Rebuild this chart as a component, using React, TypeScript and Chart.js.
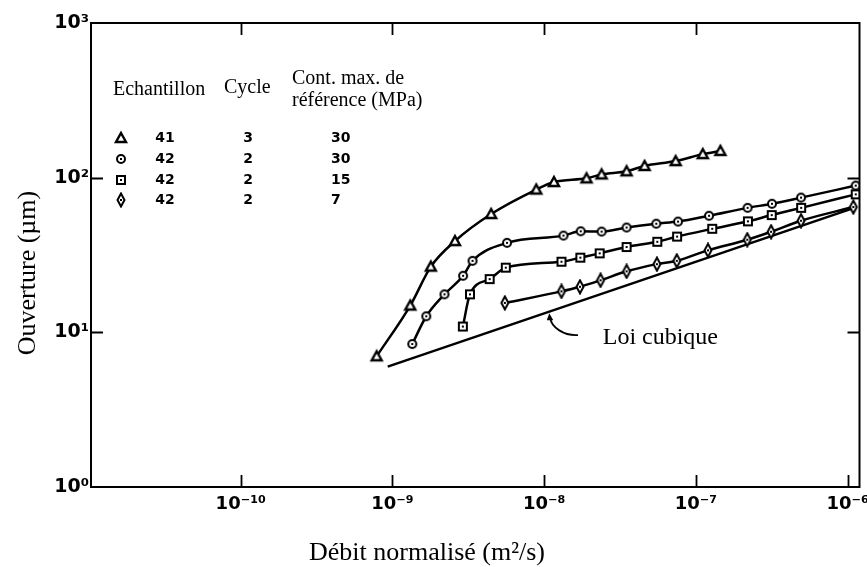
import { useEffect, useRef } from 'react';
import { Chart, registerables } from 'chart.js';

Chart.register(...registerables);

// Normalised flow rate (m²/s) and hydraulic aperture (µm) for each test
const flow41c3 = [7.86e-10, 1.31e-9, 1.79e-9, 2.58e-9, 4.47e-9, 8.87e-9, 1.16e-8, 1.9e-8, 2.39e-8, 3.49e-8, 4.59e-8, 7.35e-8, 1.11e-7, 1.45e-7];
const aperture41c3 = [7.0, 14.9, 26.6, 38.9, 58.2, 83.8, 93.7, 99.0, 105, 110, 119, 128, 142, 149];

const flow42s30 = [1.35e-9, 1.67e-9, 2.2e-9, 2.92e-9, 3.37e-9, 5.69e-9, 1.34e-8, 1.74e-8, 2.39e-8, 3.49e-8, 5.48e-8, 7.62e-8, 1.22e-7, 2.19e-7, 3.17e-7, 4.93e-7, 1.13e-6];
const aperture42s30 = [8.4, 12.7, 17.6, 23.2, 29.0, 37.9, 42.2, 45.0, 44.8, 47.6, 50.4, 52.0, 56.7, 63.8, 67.8, 74.3, 88.9];

const flow42s15 = [2.91e-9, 3.24e-9, 4.37e-9, 5.58e-9, 1.3e-8, 1.73e-8, 2.32e-8, 3.49e-8, 5.56e-8, 7.51e-8, 1.28e-7, 2.2e-7, 3.16e-7, 4.94e-7, 1.13e-6];
const aperture42s15 = [10.9, 17.6, 22.1, 26.2, 28.6, 30.4, 32.4, 35.6, 38.5, 41.6, 46.7, 52.2, 57.3, 63.8, 78.0];

const flow42s7 = [5.5e-9, 1.3e-8, 1.72e-8, 2.35e-8, 3.49e-8, 5.53e-8, 7.48e-8, 1.2e-7, 2.18e-7, 3.13e-7, 4.93e-7, 1.09e-6];
const aperture42s7 = [15.5, 18.4, 19.7, 21.7, 24.8, 27.6, 29.0, 33.9, 39.7, 44.7, 52.7, 64.6];

// Cubic law reference line (end points)
const flowCubic = [9.3e-10, 1.13e-6];
const apertureCubic = [6.0, 64.2];

// Legend table
const sampleIds = ['41', '42', '42', '42'];
const cycles = ['3', '2', '2', '2'];
const refStress = ['30', '30', '15', '7'];
const markerKinds = ['triangle', 'circle', 'square', 'diamond'];

const flowTicks = [1e-10, 1e-9, 1e-8, 1e-7, 1e-6];
const apertureTicks = [1, 10, 100, 1000];

const SUP: Record<string, string> = {
  '-': '⁻', '0': '⁰', '1': '¹', '2': '²', '3': '³', '4': '⁴',
  '5': '⁵', '6': '⁶', '7': '⁷', '8': '⁸', '9': '⁹',
};
const powerLabel = (v: number) =>
  '10' + String(Math.round(Math.log10(v))).split('').map((c) => SUP[c]).join('');

const SERIF = "'Liberation Serif', 'Times New Roman', serif";
const SANS = "'DejaVu Sans', sans-serif";

function markerCanvas(kind: string): HTMLCanvasElement {
  const c = document.createElement('canvas');
  const s = 16;
  c.width = s;
  c.height = s;
  const g = c.getContext('2d')!;
  const m = s / 2;
  g.strokeStyle = '#000';
  g.fillStyle = '#fff';
  g.lineWidth = 2;
  g.beginPath();
  if (kind === 'triangle') {
    g.lineWidth = 2.4;
    g.moveTo(m, m - 5);
    g.lineTo(m + 5, m + 4);
    g.lineTo(m - 5, m + 4);
    g.closePath();
  } else if (kind === 'circle') {
    g.arc(m, m, 4, 0, Math.PI * 2);
  } else if (kind === 'square') {
    g.rect(m - 4, m - 4, 8, 8);
  } else {
    g.moveTo(m, m - 6.5);
    g.lineTo(m + 3.5, m);
    g.lineTo(m, m + 6.5);
    g.lineTo(m - 3.5, m);
    g.closePath();
  }
  g.fill();
  g.stroke();
  if (kind !== 'triangle') {
    g.fillStyle = '#000';
    g.fillRect(m - 1, m - 1, 2, 2);
  }
  return c;
}

function pts(xs: number[], ys: number[]) {
  return xs.map((x, i) => ({ x, y: ys[i] }));
}

export default function App() {
  const ref = useRef<HTMLCanvasElement>(null);

  useEffect(() => {
    const canvas = ref.current;
    if (!canvas) return;
    const markers = markerKinds.map(markerCanvas);

    const series = (xs: number[], ys: number[], marker: HTMLCanvasElement, label: string) => ({
      label,
      data: pts(xs, ys),
      borderColor: '#000',
      backgroundColor: '#fff',
      borderWidth: 2.5,
      pointStyle: marker,
      pointRadius: 5,
      tension: 0.4,
      cubicInterpolationMode: 'monotone' as const,
      fill: false,
    });

    const framePlugin = {
      id: 'frameAndText',
      afterDraw(chart: any) {
        const { ctx, chartArea } = chart;
        const { left, right, top, bottom } = chartArea;
        const xs = chart.scales.x;
        const ys = chart.scales.y;
        ctx.save();
        ctx.strokeStyle = '#000';
        ctx.lineWidth = 2;
        ctx.strokeRect(left, top, right - left, bottom - top);

        // inward ticks: decades along the bottom and top, 10 and 100 on both sides
        const tl = 12;
        ctx.beginPath();
        flowTicks.forEach((v, i) => {
          const px = Math.round(xs.getPixelForValue(v)) + 0.5;
          ctx.moveTo(px, bottom);
          ctx.lineTo(px, bottom - tl);
          if (i < flowTicks.length - 1) {
            ctx.moveTo(px, top);
            ctx.lineTo(px, top + tl);
          }
        });
        apertureTicks.slice(1, -1).forEach((v) => {
          const py = Math.round(ys.getPixelForValue(v)) + 0.5;
          ctx.moveTo(left, py);
          ctx.lineTo(left + tl, py);
          ctx.moveTo(right, py);
          ctx.lineTo(right - tl, py);
        });
        ctx.lineWidth = 1.8;
        ctx.stroke();

        // axis titles
        ctx.fillStyle = '#000';
        ctx.font = `26px ${SERIF}`;
        ctx.textAlign = 'center';
        ctx.textBaseline = 'alphabetic';
        ctx.fillText('Débit normalisé (m²/s)', 427, 560);
        ctx.save();
        ctx.translate(35, 273);
        ctx.rotate(-Math.PI / 2);
        ctx.fillText('Ouverture (µm)', 0, 0);
        ctx.restore();

        // legend table
        ctx.textAlign = 'left';
        ctx.font = `20px ${SERIF}`;
        ctx.fillText('Echantillon', 113, 95);
        ctx.fillText('Cycle', 224, 93);
        ctx.fillText('Cont. max. de', 292, 84);
        ctx.fillText('référence (MPa)', 292, 106);
        ctx.font = `bold 14px ${SANS}`;
        ctx.textBaseline = 'middle';
        const rowY = [138, 159, 180, 200];
        rowY.forEach((y, i) => {
          const mk = markers[i];
          ctx.drawImage(mk, 121 - mk.width / 2, y - mk.height / 2);
          ctx.textAlign = 'center';
          ctx.fillText(sampleIds[i], 165, y);
          ctx.fillText(cycles[i], 248, y);
          ctx.textAlign = 'left';
          ctx.fillText(refStress[i], 331, y);
        });

        // cubic law label with leader
        const tipX = xs.getPixelForValue(1.08e-8);
        const tipY = ys.getPixelForValue(13.3);
        const stX = xs.getPixelForValue(1.67e-8);
        const stY = ys.getPixelForValue(9.6);
        ctx.beginPath();
        ctx.moveTo(stX, stY);
        ctx.bezierCurveTo(stX - 14, stY + 1, tipX + 2, tipY + 14, tipX + 1, tipY + 5);
        ctx.lineWidth = 1.8;
        ctx.stroke();
        ctx.beginPath();
        ctx.moveTo(tipX, tipY);
        ctx.lineTo(tipX + 4, tipY + 7);
        ctx.lineTo(tipX - 2.5, tipY + 7);
        ctx.closePath();
        ctx.fill();

        ctx.font = `24px ${SERIF}`;
        ctx.textAlign = 'left';
        ctx.textBaseline = 'alphabetic';
        ctx.fillText('Loi cubique', xs.getPixelForValue(2.43e-8), ys.getPixelForValue(8.4));
        ctx.restore();
      },
    };

    const chart = new Chart(canvas, {
      type: 'line',
      data: {
        datasets: [
          series(flow41c3, aperture41c3, markers[0], '41 / 3 / 30'),
          series(flow42s30, aperture42s30, markers[1], '42 / 2 / 30'),
          series(flow42s15, aperture42s15, markers[2], '42 / 2 / 15'),
          series(flow42s7, aperture42s7, markers[3], '42 / 2 / 7'),
          {
            label: 'Loi cubique',
            data: pts(flowCubic, apertureCubic),
            borderColor: '#000',
            borderWidth: 2.5,
            pointRadius: 0,
            tension: 0,
            fill: false,
          },
        ],
      },
      options: {
        animation: false,
        responsive: false,
        devicePixelRatio: 1,
        layout: { padding: { top: 23, right: 1, left: 0, bottom: 0 } },
        plugins: {
          legend: { display: false },
          tooltip: { enabled: false },
        },
        scales: {
          x: {
            type: 'logarithmic',
            min: 1.03e-11,
            max: 1.197e-6,
            grid: { display: false, drawTicks: false },
            border: { display: false },
            afterBuildTicks: (axis: any) => {
              axis.ticks = flowTicks.map((value) => ({ value }));
            },
            afterFit: (axis: any) => {
              axis.height = 80;
              axis.paddingLeft = 0;
              axis.paddingRight = 0;
            },
            ticks: {
              autoSkip: false,
              maxRotation: 0,
              padding: 7,
              color: '#000',
              font: { family: SANS, size: 18, weight: 'bold' },
              callback: (v: any) => powerLabel(Number(v)),
            },
          },
          y: {
            type: 'logarithmic',
            min: 1,
            max: 1000,
            grid: { display: false, drawTicks: false },
            border: { display: false },
            afterBuildTicks: (axis: any) => {
              axis.ticks = apertureTicks.map((value) => ({ value }));
            },
            afterFit: (axis: any) => {
              axis.width = 91;
              axis.paddingTop = 0;
              axis.paddingBottom = 0;
            },
            ticks: {
              autoSkip: false,
              padding: 2,
              color: '#000',
              font: { family: SANS, size: 19, weight: 'bold' },
              callback: (v: any) => powerLabel(Number(v)),
            },
          },
        },
      } as any,
      plugins: [framePlugin],
    });

    return () => chart.destroy();
  }, []);

  return (
    <div style={{ position: 'fixed', left: 0, top: 0, width: 867, height: 567, background: '#fff' }}>
      <canvas ref={ref} width={867} height={567} style={{ display: 'block', width: 867, height: 567 }} />
    </div>
  );
}
